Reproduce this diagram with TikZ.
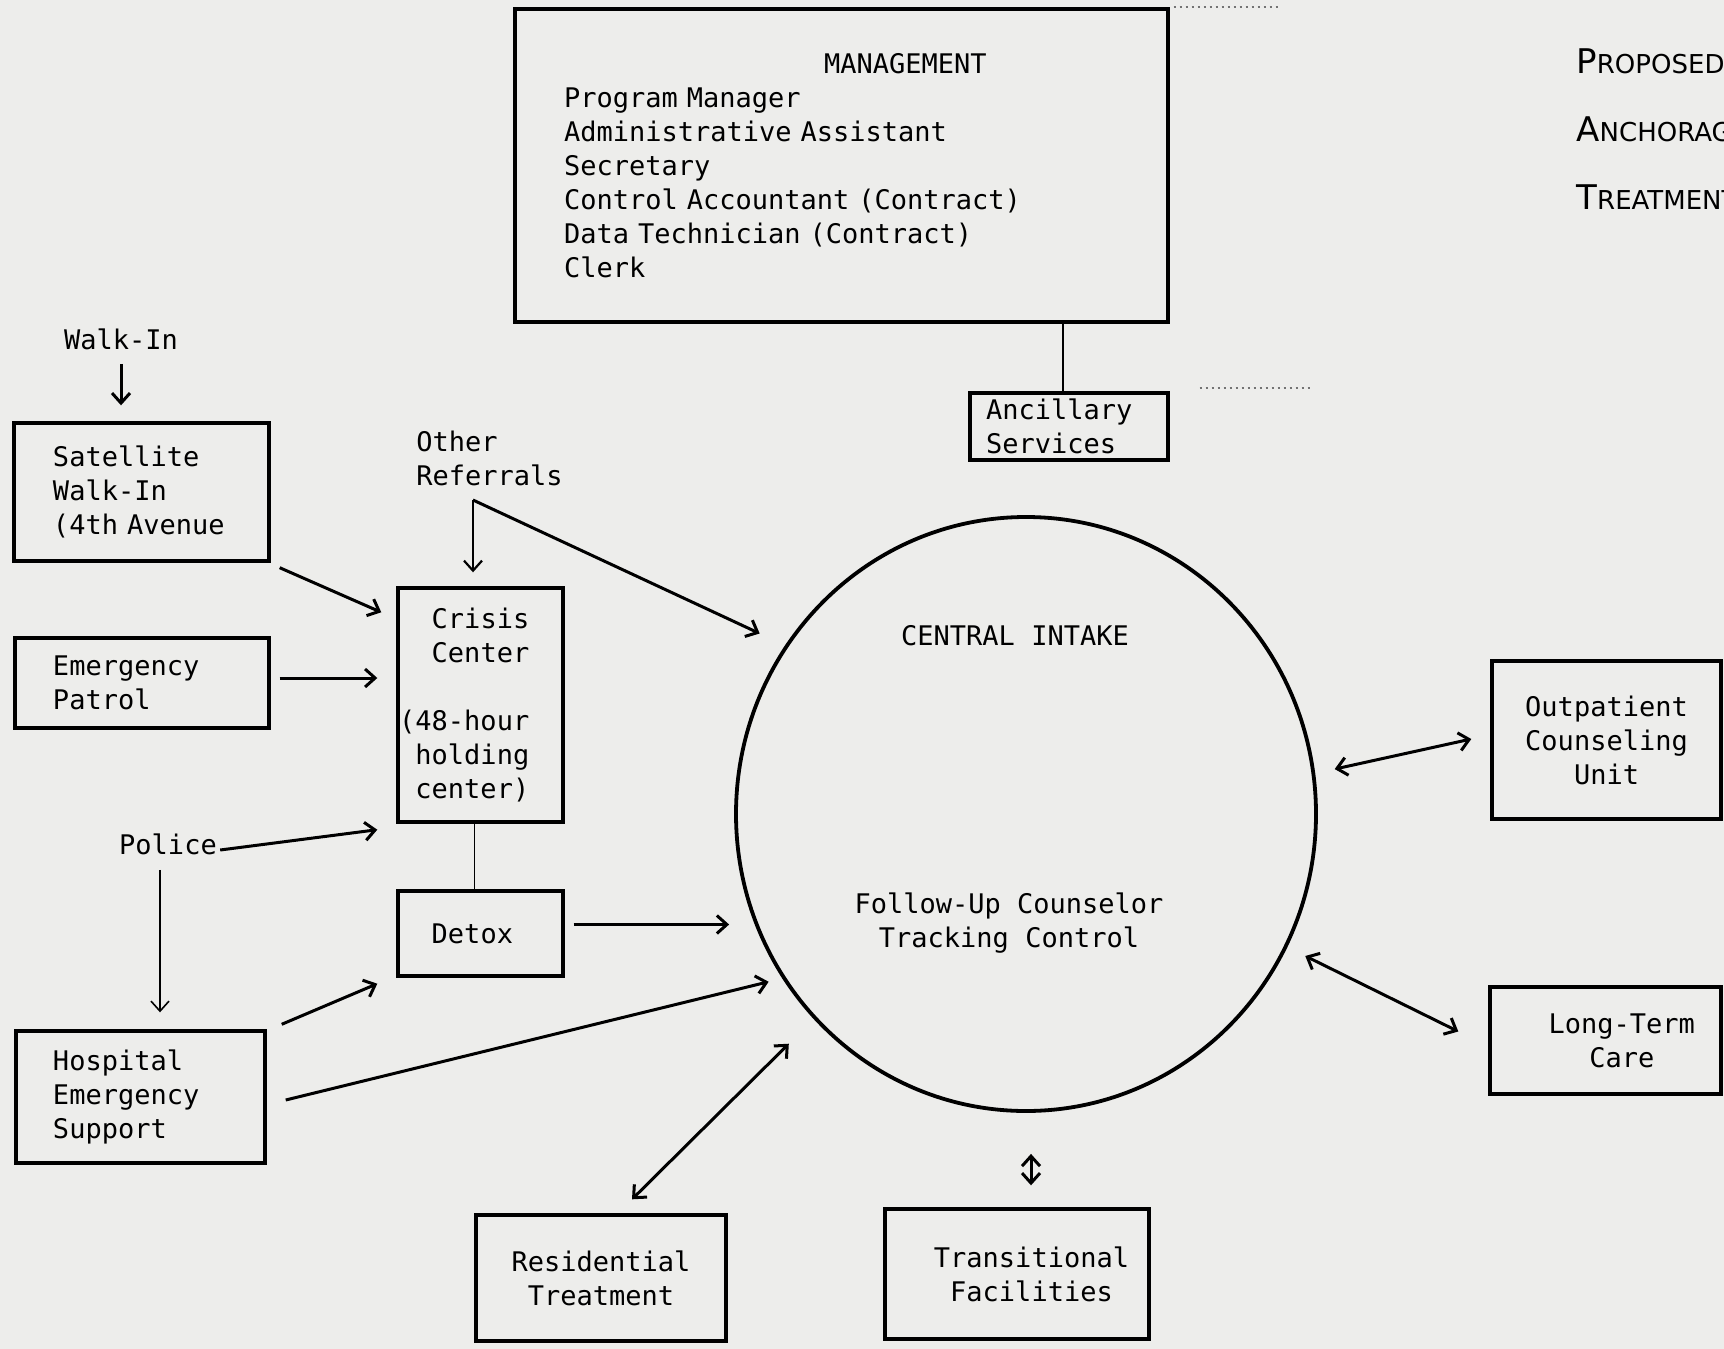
\documentclass[tikz,border=0pt]{standalone}
\usepackage{fontspec}
\setmonofont{DejaVu Sans Mono}
\newfontfamily\titlefont{DejaVu Sans}
\usetikzlibrary{arrows.meta,shapes.geometric,calc}
\definecolor{paper}{RGB}{237,237,235}
\newcommand\dfont{\ttfamily\fontsize{13.5}{17}\selectfont}
\begin{document}
\begin{tikzpicture}[x=0.5pt,y=-0.5pt,
  box/.style={draw, line width=1.7pt, inner sep=0pt, font=\dfont},
  txt/.style={inner sep=0pt, font=\dfont},
  ttl/.style={inner sep=0pt, font=\titlefont\fontsize{13}{16}\selectfont},
  arr/.style={line width=1.5pt, -{Straight Barb[length=5pt,width=9pt]}},
  darr/.style={line width=1.5pt, {Straight Barb[length=5pt,width=9pt]}-{Straight Barb[length=5pt,width=9pt]}},
  tarr/.style={line width=0.8pt, -{Straight Barb[length=5pt,width=9pt]}},
  thinline/.style={line width=0.9pt}
]
\useasboundingbox (0,0) rectangle (1724,1349);
\fill[paper] (0,0) rectangle (1724,1349);
\clip (0,0) rectangle (1724,1349);

% Management and ancillary
\node[box, minimum width=326.5pt, minimum height=156.5pt, align=left, text width=277.5pt] (mgmt) at (841.5,165.5)
  {\hspace*{130pt}MANAGEMENT\\ Program Manager\\ Administrative Assistant\\ Secretary\\ Control Accountant (Contract)\\ Data Technician (Contract)\\ Clerk};
\node[box, minimum width=99pt, minimum height=33.5pt, align=left, text width=83pt] (anc) at (1069,426.5) {Ancillary\\Services};

% Title
\node[ttl, anchor=base west] (t1) at (1576,73) {{\fontsize{17}{20}\selectfont P}ROPOSED};
\node[ttl, anchor=base west] (t2) at (1576,141) {{\fontsize{17}{20}\selectfont A}NCHORAGE};
\node[ttl, anchor=base west] (t3) at (1576,209) {{\fontsize{17}{20}\selectfont T}REATMENT};

% Left side
\node[txt] (walkin) at (121,339) {Walk-In};
\node[box, minimum width=127.5pt, minimum height=69pt, align=left, text width=88.5pt] (sat) at (141.5,492) {Satellite\\Walk-In\\(4th Avenue};
\node[box, minimum width=127pt, minimum height=45pt, align=left, text width=89pt] (ep) at (142,683) {Emergency\\Patrol};
\node[txt] (police) at (168,844) {Police};
\node[box, minimum width=124.5pt, minimum height=66pt, align=left, text width=87.5pt] (hosp) at (140.5,1097) {Hospital\\Emergency\\Support};
\node[txt, anchor=west, align=left] (oref) at (416,458) {Other\\Referrals};
\node[box, minimum width=82.5pt, minimum height=117pt, align=right] (crisis) at (480.5,705)
  {Crisis\phantom{MM}\\Center\phantom{MM}\\[17pt](48-hour\phantom{MM}\\holding\phantom{MM}\\center)\phantom{MM}};
\node[box, minimum width=82.5pt, minimum height=42.5pt] (detox) at (480.5,933.5) {Detox\phantom{M}};

% Central circle
\node[draw, ellipse, line width=1.9pt, minimum width=290pt, minimum height=297pt, inner sep=0pt] (circ) at (1026,814) {};
\node[txt] (ci) at (1015,636) {CENTRAL INTAKE};
\node[txt, align=center] (fu) at (1009,923) {Follow-Up Counselor\\Tracking Control};

% Right and bottom
\node[box, minimum width=114.5pt, minimum height=79pt, align=center] (out) at (1606.5,740) {Outpatient\\Counseling\\Unit};
\node[box, minimum width=115.5pt, minimum height=53.5pt, align=center] (lt) at (1605.5,1040.5) {\phantom{MM}Long-Term\\\phantom{MM}Care};
\node[box, minimum width=132pt, minimum height=65pt, align=center] (trans) at (1017,1274) {\hspace*{14.5pt}Transitional\\\hspace*{14.5pt}Facilities};
\node[box, minimum width=125pt, minimum height=63pt, align=center] (res) at (601,1278) {Residential\\Treatment};

% Connectors
\coordinate (mq) at ($(anc.north)+(-6,0)$);
\draw[line width=1.1pt] (mq) -- (mq |- mgmt.south);
\draw[dotted, line width=1pt, black!55] ($(mgmt.north east)+(4,0)$) -- ++(105,0);
\draw[dotted, line width=1pt, black!55] ($(anc.north east)+(30,-3)$) -- ++(110,0);

\draw[arr, shorten <=7pt, shorten >=8pt] (walkin.south) -- (walkin.south |- sat.north);
\draw[arr] ($(sat.south east)+(9,5)$) -- ($(crisis.north west)+(-15,26)$);
\draw[arr, shorten <=4.5pt, shorten >=9.5pt] ($(ep.east)+(0,-5)$) -- ($(ep.east -| crisis.west)+(0,-5)$);
\draw[arr] ($(police.east)+(3,6)$) -- ($(crisis.south west)+(-19,6)$);
\coordinate (pl) at ($(police.south)+(-8,15)$);
\draw[tarr, shorten >=8.5pt] (pl) -- (pl |- hosp.north);
\draw[arr] ($(hosp.north east)+(15,-5)$) -- ($(detox.south west)+(-19,6)$);
\draw[arr, shorten >=7pt] ($(hosp.east)+(19,3)$) -- (circ.214.3);
\draw[arr, shorten <=4.5pt, shorten >=2.5pt] ($(detox.east)+(0,-9)$) -- ($(detox.east -| circ.west)+(0,-9)$);
\draw[thinline] ($(crisis.south)+(-6,0)$) -- ($(detox.north)+(-6,0)$);

\coordinate (orj) at (473,500);
\draw[tarr, line width=1.1pt, shorten >=7pt] (orj) -- (orj |- crisis.north);
\draw[arr, shorten >=14pt] (orj) -- (circ.145.5);

\draw[darr, shorten <=17.5pt] (circ.224.6) -- ($(res.north)+(31,-14)$);
\coordinate (tl) at ($(circ.south)+(5,0)$);
\draw[darr, shorten <=20.5pt, shorten >=11pt] (tl) -- (tl |- trans.north);
\draw[darr, shorten <=10pt] (circ.8.2) -- ($(out.west)+(-19,-1)$);
\draw[darr, shorten <=10pt] (circ.-27.3) -- ($(lt.west)+(-30,-9)$);
\end{tikzpicture}
\end{document}
